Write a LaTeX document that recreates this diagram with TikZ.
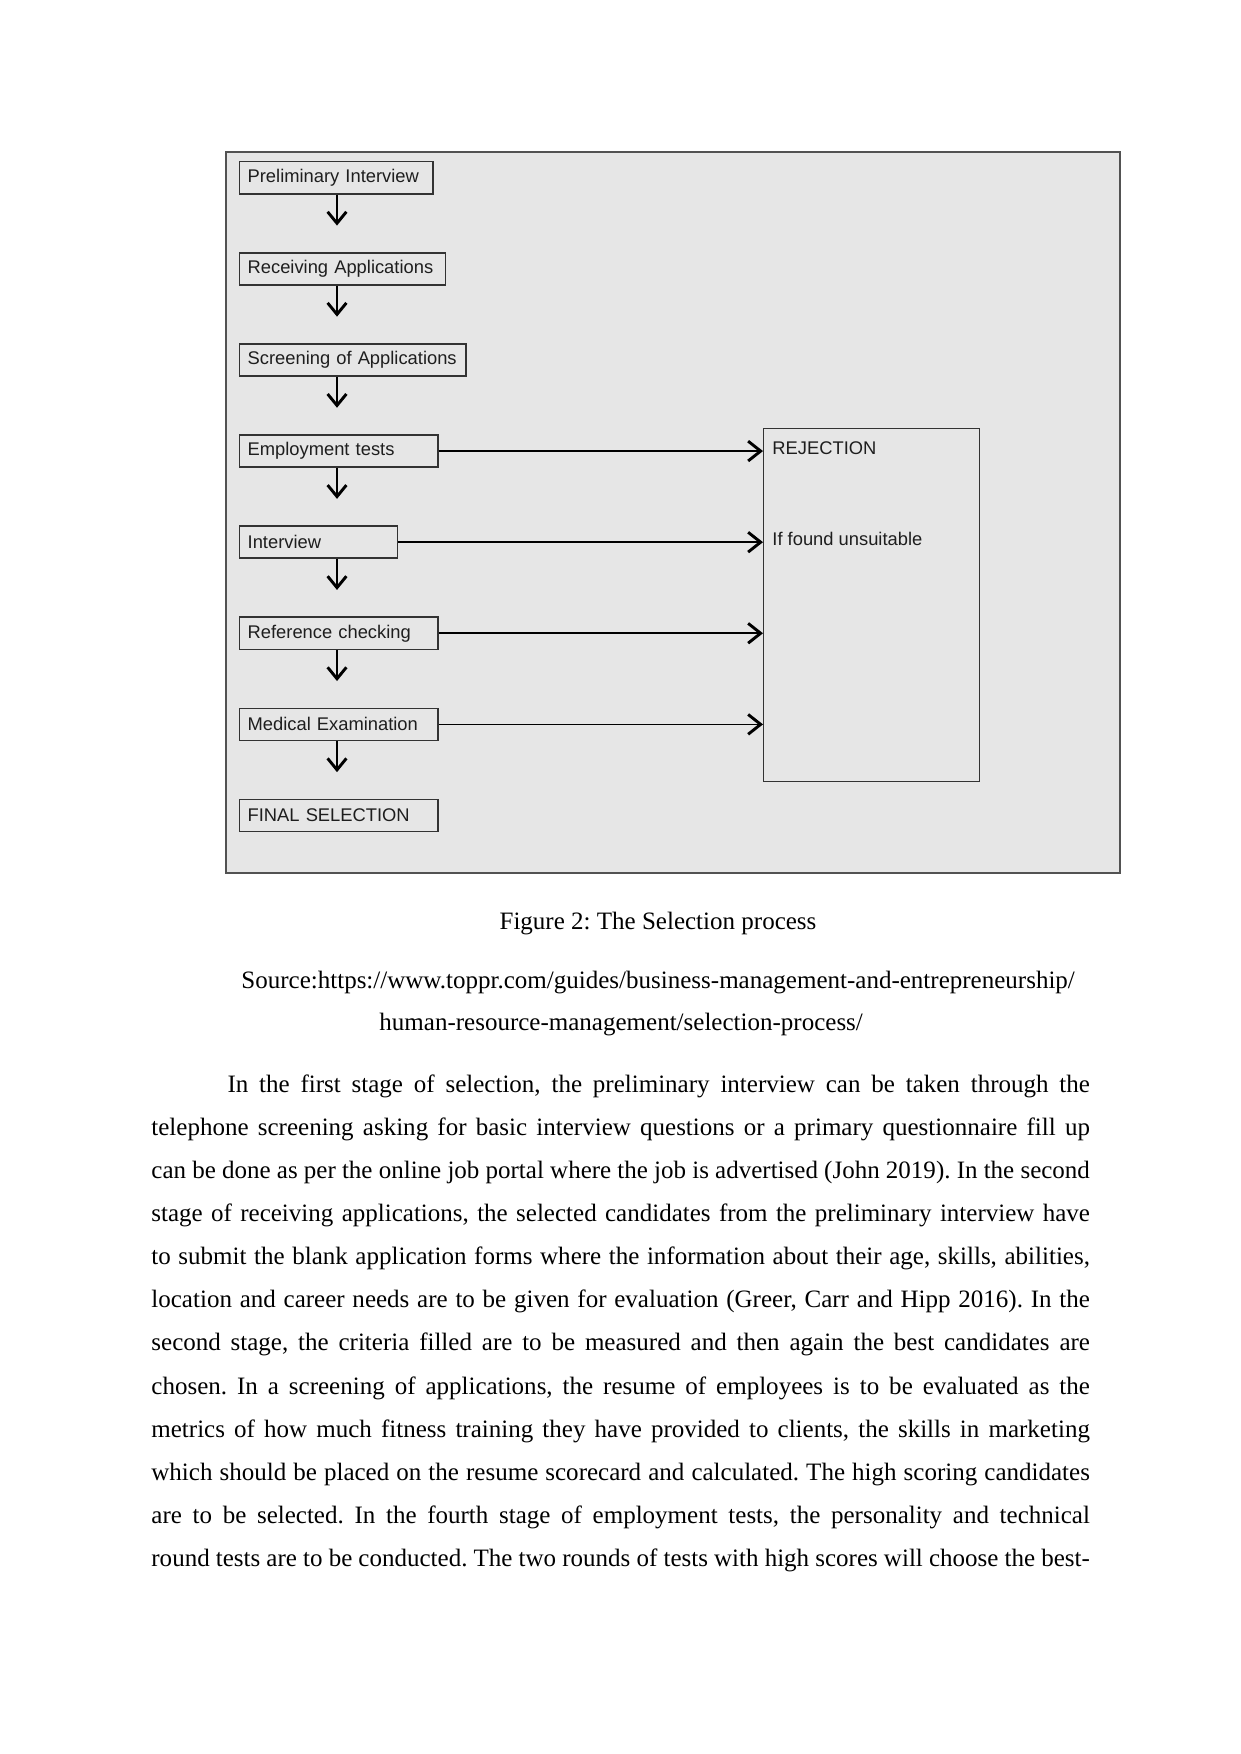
\documentclass[tikz,border=0pt]{standalone}
\usepackage{fontspec}
\setmainfont{Liberation Serif}
\newfontfamily\selsans{Liberation Sans}
\usepackage{xcolor}
\definecolor{selbg}{HTML}{E6E6E6}
\definecolor{selln}{HTML}{333333}
\definecolor{seltx}{HTML}{1E1E1E}
\usepackage{tikz}
\usetikzlibrary{arrows.meta,positioning}
\frenchspacing
\tikzset{
  selbox/.style={draw=selln,line width=0.7pt,fill=selbg,inner xsep=3.8pt,inner ysep=0pt,minimum height=15.4pt,align=left,text=seltx,font=\selsans\fontsize{8.8}{10}\selectfont,text width=#1},
  seldown/.style={-{Straight Barb[length=5.5pt,width=9pt,line width=1.4pt]},line width=1.2pt},
  selflow/.style={-{Straight Barb[length=6pt,width=9.5pt,line width=1.4pt]},line width=0.8pt},
  sellabel/.style={anchor=base west,inner sep=0pt,text=seltx,font=\selsans\fontsize{8.8}{10}\selectfont},
  seltext/.style={inner sep=0pt,font=\fontsize{12}{20.7}\selectfont},
}

\begin{document}
\begin{tikzpicture}[x=0.4797pt,y=-0.4797pt,node distance=27.6pt]
\useasboundingbox[fill=white] (0,0) rectangle (1241,1754);
% figure frame
\node[draw=selln!85,line width=1pt,fill=selbg,minimum width=428.9pt,minimum height=345.9pt,anchor=north west,inner sep=0pt] (frame) at (225,151) {};
% selection steps
\node[selbox=85pt,anchor=north west] (pi) at (239,161) {Preliminary Interview};
\node[selbox=91.2pt,below=of pi.south west,anchor=north west] (ra) {Receiving Applications};
\node[selbox=101pt,below=of ra.south west,anchor=north west] (sa) {Screening of Applications};
\node[selbox=87.4pt,below=of sa.south west,anchor=north west] (et) {Employment tests};
\node[selbox=68.2pt,below=of et.south west,anchor=north west] (iv) {Interview};
\node[selbox=87.4pt,below=of iv.south west,anchor=north west] (rc) {Reference checking};
\node[selbox=87.4pt,below=of rc.south west,anchor=north west] (me) {Medical Examination};
\node[selbox=87.4pt,below=of me.south west,anchor=north west] (fs) {FINAL SELECTION};
% rejection
\node[draw=selln,line width=0.7pt,minimum width=103.6pt,minimum height=169.3pt,anchor=north west,inner sep=0pt] (rej) at (763,428) {};
\node[sellabel] (rejt) at (772,454) {REJECTION};
\node[sellabel] (rejw) at (772,545) {If found unsuitable};
\coordinate (ax) at (337,0);
\draw[seldown](pi.south-|ax)--++(0,31);\draw[seldown](ra.south-|ax)--++(0,31);\draw[seldown](sa.south-|ax)--++(0,31);
\draw[seldown](et.south-|ax)--++(0,31);\draw[seldown](iv.south-|ax)--++(0,31);\draw[seldown](rc.south-|ax)--++(0,31);
\draw[seldown](me.south-|ax)--++(0,31);
\draw[selflow](et)--(et-|rej.west);\draw[selflow](iv)--(iv-|rej.west);
\draw[selflow](rc)--(rc-|rej.west);\draw[selflow](me)--(me-|rej.west);
% caption and text
\node[seltext,anchor=base] (cap) at (658,929) {Figure 2: The Selection process};
\node[seltext,anchor=base west] (src1) at (241,988) {Source:https://www.toppr.com/guides/business-management-and-entrepreneurship/};
\node[seltext,anchor=base west] (src2) at (379,1030) {human-resource-management/selection-process/};
\node[seltext,text width=450.2pt,align=justify,anchor=base west] (body) at (151,1092) {\tolerance=10000\hyphenpenalty=10000\parfillskip=0pt
\hspace*{36.5pt}In the first stage of selection, the preliminary interview can be taken through the\linebreak
telephone screening asking for basic interview questions or a primary questionnaire fill up\linebreak
can be done as per the online job portal where the job is advertised (John 2019). In the second\linebreak
stage of receiving applications, the selected candidates from the preliminary interview have\linebreak
to submit the blank application forms where the information about their age, skills, abilities,\linebreak
location and career needs are to be given for evaluation (Greer, Carr and Hipp 2016). In the\linebreak
second stage, the criteria filled are to be measured and then again the best candidates are\linebreak
chosen. In a screening of applications, the resume of employees is to be evaluated as the\linebreak
metrics of how much fitness training they have provided to clients, the skills in marketing\linebreak
which should be placed on the resume scorecard and calculated. The high scoring candidates\linebreak
are to be selected. In the fourth stage of employment tests, the personality and technical\linebreak
round tests are to be conducted. The two rounds of tests with high scores will choose the best-};
\end{tikzpicture}
\end{document}
